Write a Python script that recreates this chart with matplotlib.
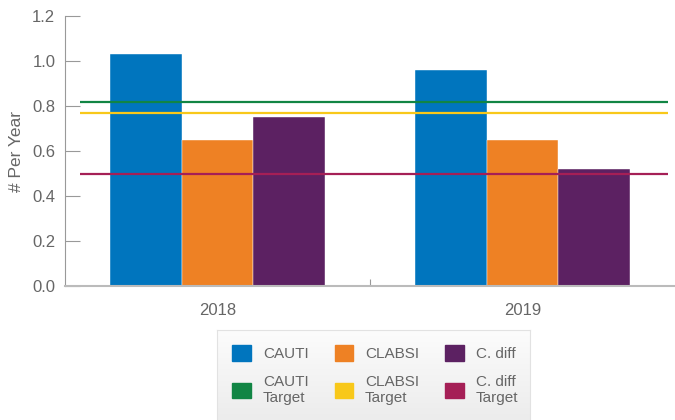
import numpy as np
import matplotlib.pyplot as plt
from matplotlib.patches import Patch

# infection rates per year
years = ['2018', '2019']
cauti = [1.03, 0.96]
clabsi = [0.65, 0.65]
cdiff = [0.75, 0.52]
# target lines: CAUTI, CLABSI, C. diff
targets = [0.82, 0.77, 0.50]

bar_labels = ['CAUTI', 'CLABSI', 'C. diff']
target_labels = ['CAUTI\nTarget', 'CLABSI\nTarget', 'C. diff\nTarget']
bar_colors = ['#0075BE', '#EE8124', '#5C2162']
target_colors = ['#118544', '#F8C81A', '#A51F56']
yticks = [0.0, 0.2, 0.4, 0.6, 0.8, 1.0, 1.2]

plt.rcParams['font.family'] = ['Liberation Sans', 'DejaVu Sans']
grey = '#666666'

fig = plt.figure(figsize=(6.75, 4.2), dpi=100)
ax = fig.add_axes([65/675, 1 - 286/420, 610/675, 270/420])

x = np.arange(len(years)) + 0.5
w = 0.236
for i, vals in enumerate([cauti, clabsi, cdiff]):
    ax.bar(x + (i - 1) * w, vals, w, color=bar_colors[i],
           edgecolor='white', linewidth=0.3, zorder=2)

for t, c in zip(targets, target_colors):
    ax.hlines(t, 0.05, 1.977, color=c, lw=1.6, zorder=3)

ax.set_xlim(0, 2)
ax.set_ylim(0, 1.2)

for s in ['top', 'right']:
    ax.spines[s].set_visible(False)
ax.spines['left'].set_color('#999999')
ax.spines['bottom'].set_color('#bbbbbb')
ax.spines['bottom'].set_linewidth(1.5)

ax.set_yticks(yticks)
ax.set_yticklabels([f'{v:.1f}' for v in yticks])
ax.tick_params(axis='y', direction='in', length=11, color='#999999',
               labelsize=12, labelcolor=grey, pad=7)

# year labels on minor ticks, one divider tick between groups
ax.set_xticks([1.0])
ax.set_xticklabels([])
ax.set_xticks(x, minor=True)
ax.set_xticklabels(years, minor=True)
ax.tick_params(axis='x', which='major', direction='in', length=5, color='#999999')
ax.tick_params(axis='x', which='minor', length=0, labelsize=12,
               labelcolor=grey, pad=12)

ax.set_ylabel('# Per Year', fontsize=12.5, color=grey, labelpad=6)

# legend background: light vertical gradient, runs off the bottom edge
bg = fig.add_axes([217/675, 0, 313/675, 90/420])
bg.imshow(np.linspace(0, 1, 100).reshape(-1, 1), aspect='auto',
          cmap=plt.matplotlib.colors.LinearSegmentedColormap.from_list(
              'g', ['#fcfcfc', '#ececec']), extent=[0, 1, 0, 1], origin='upper')
bg.set_xticks([])
bg.set_yticks([])
for s in bg.spines.values():
    s.set_color('#e2e2e2')
bg.spines['bottom'].set_visible(False)

handles = []
labels = []
for i in range(3):
    handles += [Patch(color=bar_colors[i]), Patch(color=target_colors[i])]
    labels += [bar_labels[i], target_labels[i]]

leg = fig.legend(handles, labels, ncol=3, loc='upper left',
                 bbox_to_anchor=(217/675, 1 - 330/420), borderaxespad=0,
                 fontsize=11, frameon=False,
                 handlelength=1.2, handleheight=1.2, handletextpad=0.8,
                 columnspacing=1.7, borderpad=1.0, labelspacing=0.9)
for t in leg.get_texts():
    t.set_color(grey)

fig.savefig('out.png', dpi=100)
